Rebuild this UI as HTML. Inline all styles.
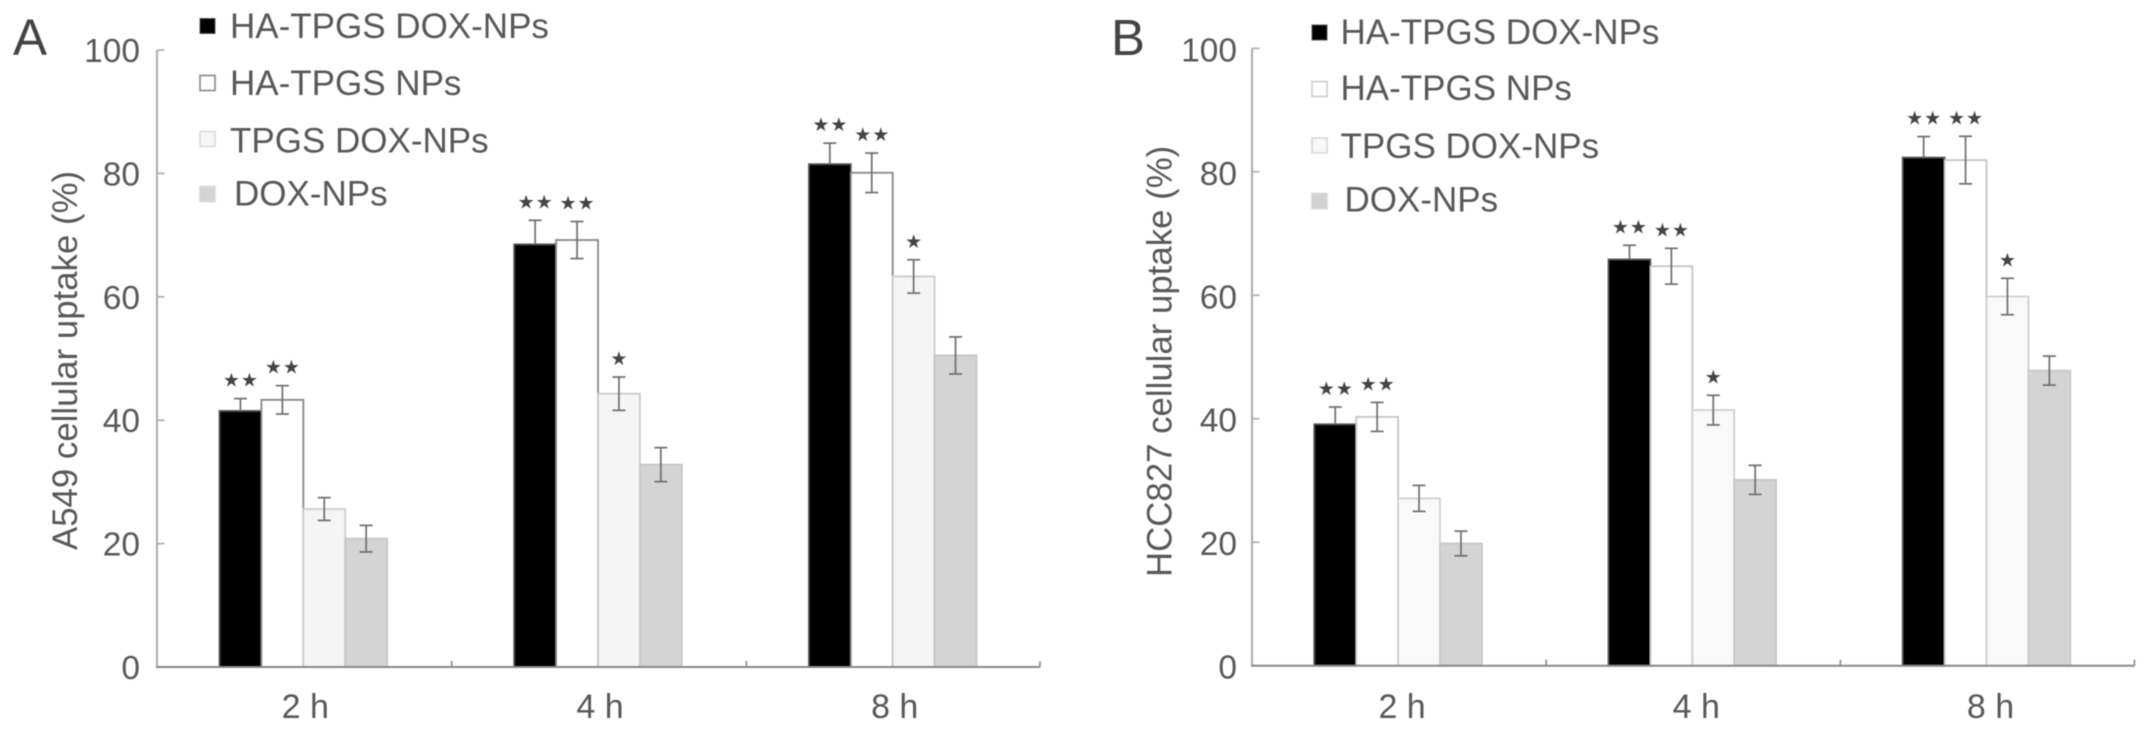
<!DOCTYPE html>
<html lang="en">
<head>
<meta charset="utf-8">
<title>Cellular uptake bar charts</title>
<style>
html,body{margin:0;padding:0;background:#fff;width:2150px;height:732px;overflow:hidden}
svg{display:block;filter:blur(0.5px)}
text{font-family:"Liberation Sans",sans-serif;fill:#585858}
.lg{font-size:35px}
.star{font-family:"DejaVu Sans",sans-serif;font-size:19px;fill:#444}
</style>
</head>
<body>
<svg id="chart" width="2150" height="732" viewBox="0 0 2150 732" xmlns="http://www.w3.org/2000/svg">
  <rect x="0" y="0" width="2150" height="732" fill="#fff"/>

  <g id="panel-a">
    <text x="13" y="55" font-size="51" style="fill:#444">A</text>
    <text transform="translate(77,550) rotate(-90)" font-size="34.8">A549 cellular uptake (%)</text>
    <g>
      <g>
        <rect x="200" y="18.5" width="15" height="15" fill="#000" stroke="#555" stroke-width="1"/>
        <text class="lg" x="230" y="38">HA-TPGS DOX-NPs</text>
      </g>
      <g>
        <rect x="200" y="75.5" width="15" height="15" fill="#fff" stroke="#888" stroke-width="1.6"/>
        <text class="lg" x="230" y="95">HA-TPGS NPs</text>
      </g>
      <g>
        <rect x="200" y="131.5" width="15" height="15" fill="#f6f6f6" stroke="#ddd" stroke-width="1.6"/>
        <text class="lg" x="230" y="152.5">TPGS DOX-NPs</text>
      </g>
      <g>
        <rect x="200" y="186.5" width="15" height="15" fill="#d4d4d4" stroke="#d8d8d8" stroke-width="1.6"/>
        <text class="lg" x="234" y="205.5">DOX-NPs</text>
      </g>
    </g>
  </g>

  <g id="panel-b">
    <text x="1111" y="55" font-size="51" style="fill:#444">B</text>
    <text transform="translate(1171.5,577) rotate(-90)" font-size="34.8">HCC827 cellular uptake (%)</text>
    <g>
      <g>
        <rect x="1312" y="25" width="15" height="15" fill="#000" stroke="#555" stroke-width="1"/>
        <text class="lg" x="1340.5" y="44">HA-TPGS DOX-NPs</text>
      </g>
      <g>
        <rect x="1312" y="81.5" width="15" height="15" fill="#fff" stroke="#ccc" stroke-width="1.6"/>
        <text class="lg" x="1340.5" y="100">HA-TPGS NPs</text>
      </g>
      <g>
        <rect x="1312" y="138" width="15" height="15" fill="#f8f8f8" stroke="#d8d8d8" stroke-width="1.6"/>
        <text class="lg" x="1340.5" y="158">TPGS DOX-NPs</text>
      </g>
      <g>
        <rect x="1312" y="193.5" width="15" height="15" fill="#d2d2d2" stroke="#d6d6d6" stroke-width="1.6"/>
        <text class="lg" x="1344.5" y="211.5">DOX-NPs</text>
      </g>
    </g>
  </g>
</svg>

<script>
// Shared categories and axis ticks
var categories = ['2 h', '4 h', '8 h'];
var yTickLabels = [0, 20, 40, 60, 80, 100];
var seriesKeys = ['ha-tpgs-dox-nps', 'ha-tpgs-nps', 'tpgs-dox-nps', 'dox-nps'];

// Number of significance stars per series, per time point (same in both panels)
var haTpgsDoxStars = [2, 2, 2];
var haTpgsStars = [2, 2, 2];
var tpgsDoxStars = [0, 1, 1];
var doxStars = [0, 0, 0];

// Panel A: A549 means (one array per series, one value per time point)
var a549HaTpgsDox = [41.5, 68.5, 81.5];
var a549HaTpgs = [43.3, 69.2, 80.1];
var a549TpgsDox = [25.6, 44.3, 63.3];
var a549Dox = [20.8, 32.8, 50.5];

// Panel A: A549 error half-widths
var a549HaTpgsDoxErr = [2.0, 3.9, 3.4];
var a549HaTpgsErr = [2.3, 3.0, 3.2];
var a549TpgsDoxErr = [1.85, 2.7, 2.7];
var a549DoxErr = [2.15, 2.75, 3.0];

// Panel B: HCC827 means
var hcc827HaTpgsDox = [39.1, 65.8, 82.3];
var hcc827HaTpgs = [40.3, 64.7, 81.9];
var hcc827TpgsDox = [27.1, 41.4, 59.8];
var hcc827Dox = [19.8, 30.1, 47.8];

// Panel B: HCC827 error half-widths
var hcc827HaTpgsDoxErr = [2.8, 2.3, 3.4];
var hcc827HaTpgsErr = [2.35, 2.9, 3.85];
var hcc827TpgsDoxErr = [2.1, 2.4, 2.95];
var hcc827DoxErr = [2.0, 2.35, 2.35];

var NS = 'http://www.w3.org/2000/svg';

function make(tag, parent, attrs, txt) {
  var el = document.createElementNS(NS, tag);
  for (var k in attrs) { el.setAttribute(k, attrs[k]); }
  if (txt !== undefined) { el.textContent = txt; }
  parent.appendChild(el);
  return el;
}

function drawPanel(root, cfg, means, errs, stars) {
  var yScale = function (v) { return cfg.y0 + (cfg.y100 - cfg.y0) * v / 100; };
  var catLeft = function (i) { return cfg.x0 + cfg.inset + i * cfg.catW; };
  var barLeft = function (c, s) { return catLeft(c) + s * cfg.barW; };
  var axisStroke = '#888';

  // y ticks and labels
  yTickLabels.forEach(function (t) {
    var tick = make('line', root, { x1: cfg.x0, x2: cfg.x0 + 7.5, y1: yScale(t), y2: yScale(t), stroke: '#aaa', 'stroke-width': 1.6 });
    
    
    var lab = make('text', root, { x: cfg.yLabelRight, y: yScale(t) + cfg.yLabelDy, 'text-anchor': 'end', 'font-size': 33.5 }, String(t));
    
    
  });

  // bars
  means.forEach(function (series, s) {
    series.forEach(function (v, c) {
      var bar = make('rect', root, {
        x: barLeft(c, s), y: yScale(v), width: cfg.barW, height: cfg.y0 - yScale(v),
        fill: cfg.fills[s], stroke: cfg.strokes[s], 'stroke-width': 1.8
      });
      
      
    });
  });

  // error bars and significance stars
  means.forEach(function (series, s) {
    series.forEach(function (v, c) {
      var cx = barLeft(c, s) + cfg.barW / 2;
      var hi = yScale(v + errs[s][c]);
      var lo = yScale(v - errs[s][c]);
      var g = make('g', root, { stroke: '#6e6e6e', 'stroke-width': 1.7 });
      
      
      make('line', g, { x1: cx, x2: cx, y1: hi, y2: s === 0 ? yScale(v) : lo });
      make('line', g, { x1: cx - 6.5, x2: cx + 6.5, y1: hi, y2: hi });
      if (s !== 0) { make('line', g, { x1: cx - 6.5, x2: cx + 6.5, y1: lo, y2: lo }); }
      var n = stars[s][c];
      for (var k = 0; k < n; k++) {
        var sx = cx + (k - (n - 1) / 2) * 18;
        var star = make('text', root, { x: sx, y: hi - 19 + 7, 'text-anchor': 'middle', 'class': 'star' }, '\u2605');
        
        
      }
    });
  });

  // axes drawn over the bars
  var yAxis = make('line', root, { x1: cfg.x0, x2: cfg.x0, y1: cfg.y100, y2: cfg.y0, stroke: '#aaa', 'stroke-width': 2 });
  
  
  var xAxis = make('line', root, { x1: cfg.x0 - 1, x2: cfg.xEnd, y1: cfg.y0, y2: cfg.y0, stroke: axisStroke, 'stroke-width': 2 });
  
  

  // x ticks between and after categories
  categories.forEach(function (name, c) {
    var tx = c === categories.length - 1 ? cfg.xEnd : cfg.x0 + (c + 1) * cfg.catW;
    var tick = make('line', root, { x1: tx, x2: tx, y1: cfg.y0, y2: cfg.y0 - 6, stroke: axisStroke, 'stroke-width': 1.6 });
    
    
    var labX = catLeft(c) + 2 * cfg.barW + cfg.xLabelDx;
    var lab = make('text', root, { x: labX, y: 718, 'text-anchor': 'middle', 'font-size': 34 }, name);
    
    
  });
}

drawPanel(document.getElementById('panel-a'), {
  x0: 157, xEnd: 1040, y0: 667, y100: 50, catW: 294.7, inset: 62.5, barW: 41.9,
  yLabelRight: 140, yLabelDy: 12, xLabelDx: 2,
  fills: ['#000', '#fff', '#f5f5f5', '#d4d4d4'],
  strokes: ['#555', '#888', '#ccc', '#c6c6c6']
}, [a549HaTpgsDox, a549HaTpgs, a549TpgsDox, a549Dox],
   [a549HaTpgsDoxErr, a549HaTpgsErr, a549TpgsDoxErr, a549DoxErr],
   [haTpgsDoxStars, haTpgsStars, tpgsDoxStars, doxStars]);

drawPanel(document.getElementById('panel-b'), {
  x0: 1252, xEnd: 2134.5, y0: 665.7, y100: 48.3, catW: 294.2, inset: 62.3, barW: 41.9,
  yLabelRight: 1237, yLabelDy: 13, xLabelDx: 4,
  fills: ['#000', '#fff', '#f9f9f9', '#d4d4d4'],
  strokes: ['#555', '#c4c4c4', '#d0d0d0', '#c8c8c8']
}, [hcc827HaTpgsDox, hcc827HaTpgs, hcc827TpgsDox, hcc827Dox],
   [hcc827HaTpgsDoxErr, hcc827HaTpgsErr, hcc827TpgsDoxErr, hcc827DoxErr],
   [haTpgsDoxStars, haTpgsStars, tpgsDoxStars, doxStars]);
</script>
</body>
</html>
